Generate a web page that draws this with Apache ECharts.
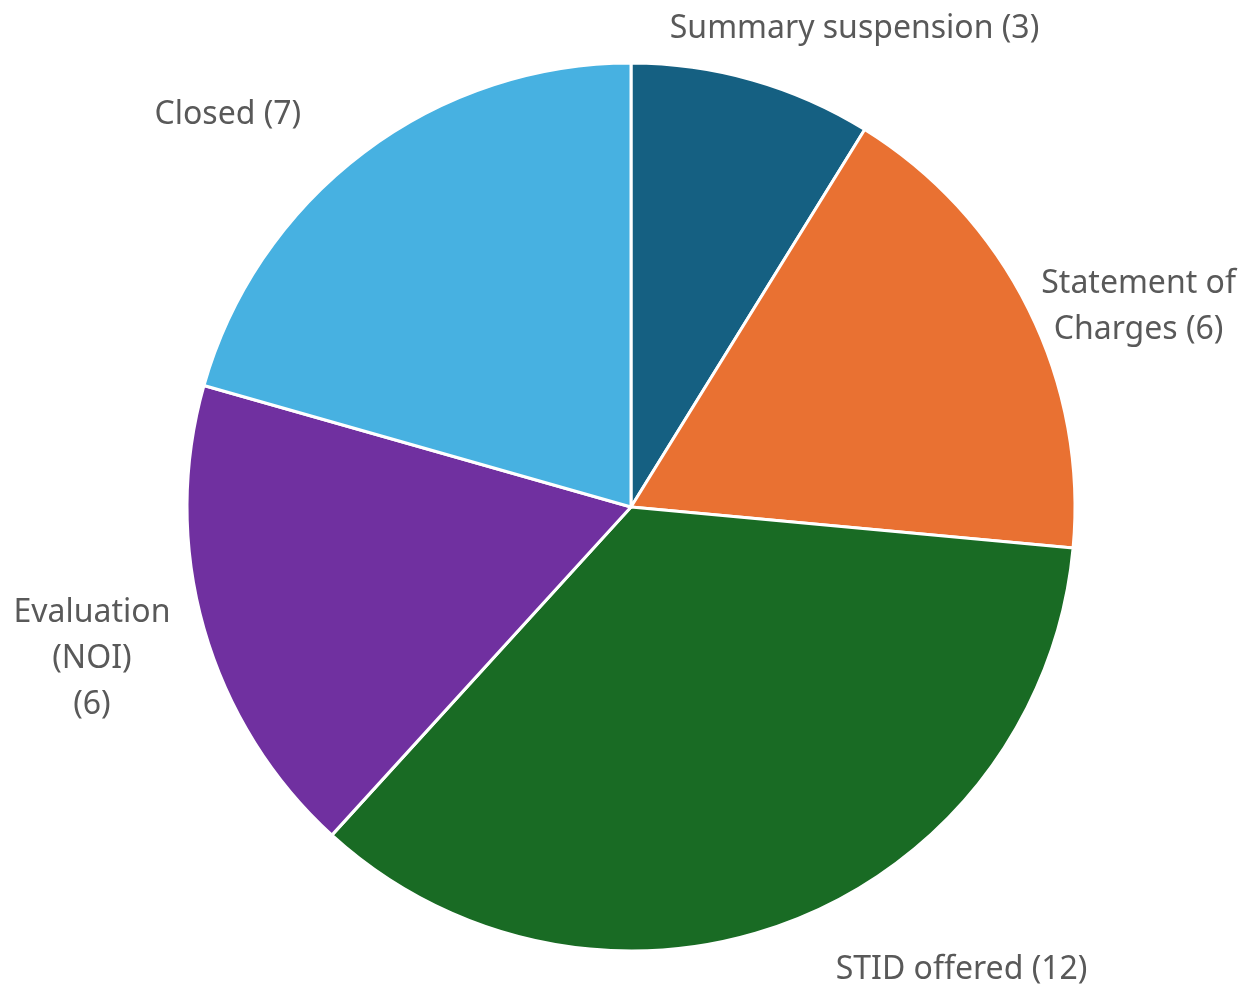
<!DOCTYPE html>
<html>
<head>
    <meta charset="utf-8">
    <script src="https://cdn.jsdelivr.net/npm/echarts@6/dist/echarts.min.js"></script>
    <style>
        html, body { margin: 0; padding: 0; background: #ffffff; }
        #main { width: 1242px; height: 989px; }
    </style>
</head>
<body>
<div id="main"></div>
<script>
    // data
    var categories = ['Summary suspension', 'Statement of Charges', 'STID offered', 'Evaluation (NOI)', 'Closed'];
    var counts = [3, 6, 12, 6, 7];
    var labelTexts = ['Summary suspension (3)', 'Statement of\nCharges (6)', 'STID offered (12)', 'Evaluation\n(NOI)\n(6)', 'Closed (7)'];
    var colors = ['#156082', '#E97132', '#196B24', '#7030A0', '#47B1E1'];

    // small nudges so labels sit where the spreadsheet put them
    var labelShift = [[-86, -40], [3, 3], [40, 38], [-22, 27], [-55, -28]];

    var chart = echarts.init(document.getElementById('main'));

    var pieData = categories.map(function (name, i) {
        return {
            name: name,
            value: counts[i],
            itemStyle: { color: colors[i] }
        };
    });

    var option = {
        animation: false,
        series: [{
            type: 'pie',
            center: [631, 507],
            radius: 444,
            startAngle: 90,
            clockwise: true,
            data: pieData,
            itemStyle: {
                borderColor: '#ffffff',
                borderWidth: 3
            },
            label: {
                show: true,
                position: 'outside',
                overflow: 'none',
                edgeDistance: 0,
                formatter: function (p) {
                    return labelTexts[p.dataIndex].split('\n').map(function (s) {
                        return '{t|' + s + '}';
                    }).join('\n');
                },
                rich: {
                    t: {
                        fontFamily: 'Noto Sans',
                        fontSize: 32,
                        color: '#595959',
                        lineHeight: 46,
                        align: 'center'
                    }
                },
                distanceToLabelLine: 0
            },
            labelLine: {
                show: false,
                length: 12,
                length2: 0
            },
            labelLayout: function (params) {
                var s = labelShift[params.dataIndex];
                return { dx: s[0], dy: s[1] };
            }
        }]
    };

    chart.setOption(option);
</script>
</body>
</html>
